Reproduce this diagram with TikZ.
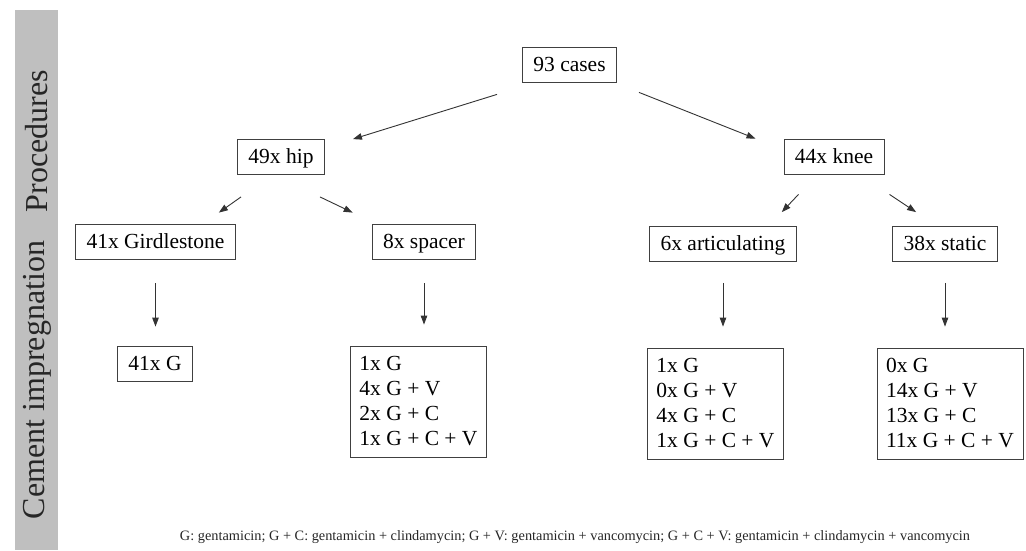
\documentclass[tikz,border=0pt]{standalone}
\usepackage{fontspec}
\setmainfont{Liberation Serif}
\usepackage{graphicx}
\usetikzlibrary{arrows.meta,calc}

\begin{document}
\begin{tikzpicture}[x=1pt,y=-1pt,
	box/.style={draw=black!75,line width=0.8pt,inner xsep=11pt,inner ysep=8pt,text height=16pt,text depth=3pt,font=\fontsize{21.5}{25}\selectfont},
	listbox/.style={draw=black!75,line width=0.8pt,align=left,inner xsep=9pt,minimum height=111pt,font=\fontsize{21.5}{25}\selectfont},
	arr/.style={draw=black!80,line width=0.9pt,-{Triangle[length=9pt,width=6.5pt]}},
	side/.style={rotate=90,font=\fontsize{32}{33}\selectfont,text=black!85}]
	\useasboundingbox (0,0) rectangle (1026,550);
	%Seitenleiste
	\fill [black!25] (15,10) rectangle (58,550);
	\node [side] (proc) at (37,141) {Procedures};
	\node [side] (cement) at (37,380) {Cement impregnation};
	%Eingriffe
	\node [box] (cases) at (569.5,64.5) {93 cases};
	\node [box] (hip) at (281,157) {49x hip};
	\node [box] (knee) at (834,156.5) {44x knee};
	\node [box] (gird) at (155.5,241.5) {41x Girdlestone};
	\node [box] (spacer) at (424,241.5) {8x spacer};
	\node [box] (artic) at (723,244) {6x articulating};
	\node [box] (static) at (945,244) {38x static};
	%Zementimpraegnierung
	\node [box] (girdG) at (155,363.5) {41x G};
	\node [listbox] (spacerG) at (418.5,401.5) {1x G\\4x G + V\\2x G + C\\1x G + C + V};
	\node [listbox] (articG) at (715.5,403.5) {1x G\\0x G + V\\4x G + C\\1x G + C + V};
	\node [listbox] (staticG) at (950,403.5) {0x G\\14x G + V\\13x G + C\\11x G + C + V};
	%Pfeile
	\draw [arr] ($(cases.south west)+(-25,12)$) -- ($(hip.north east)+(28,0)$);
	\draw [arr] ($(cases.south east)+(22,10)$) -- ($(knee.north west)+(-28,0)$);
	\draw [arr] ($(hip.south west)+(4,22)$) -- ($(gird.north east)+(-17,-11)$);
	\draw [arr] ($(hip.south east)+(-5,22)$) -- ($(spacer.north west)+(-19,-11)$);
	\draw [arr] ($(knee.south west)+(15,20)$) -- ($(artic.north east)+(-15,-14)$);
	\draw [arr] ($(knee.south east)+(5,20)$) -- ($(static.north west)+(24,-14)$);
	\draw [arr,shorten <=24pt,shorten >=19pt] (gird.south) -- (gird.south |- girdG.north);
	\draw [arr,shorten <=24pt,shorten >=21pt] (spacer.south) -- (spacer.south |- spacerG.north);
	\draw [arr,shorten <=21pt,shorten >=21pt] (artic.south) -- (artic.south |- articG.north);
	\draw [arr,shorten <=21pt,shorten >=21pt] (static.south) -- (static.south |- staticG.north);
	%Legende
	\node [text=black!85] (key) at (575,537) {\resizebox{790pt}{!}{\fontsize{12}{14}\selectfont G: gentamicin; G + C: gentamicin + clindamycin; G + V: gentamicin + vancomycin; G + C + V: gentamicin + clindamycin + vancomycin}};
\end{tikzpicture}
\end{document}
